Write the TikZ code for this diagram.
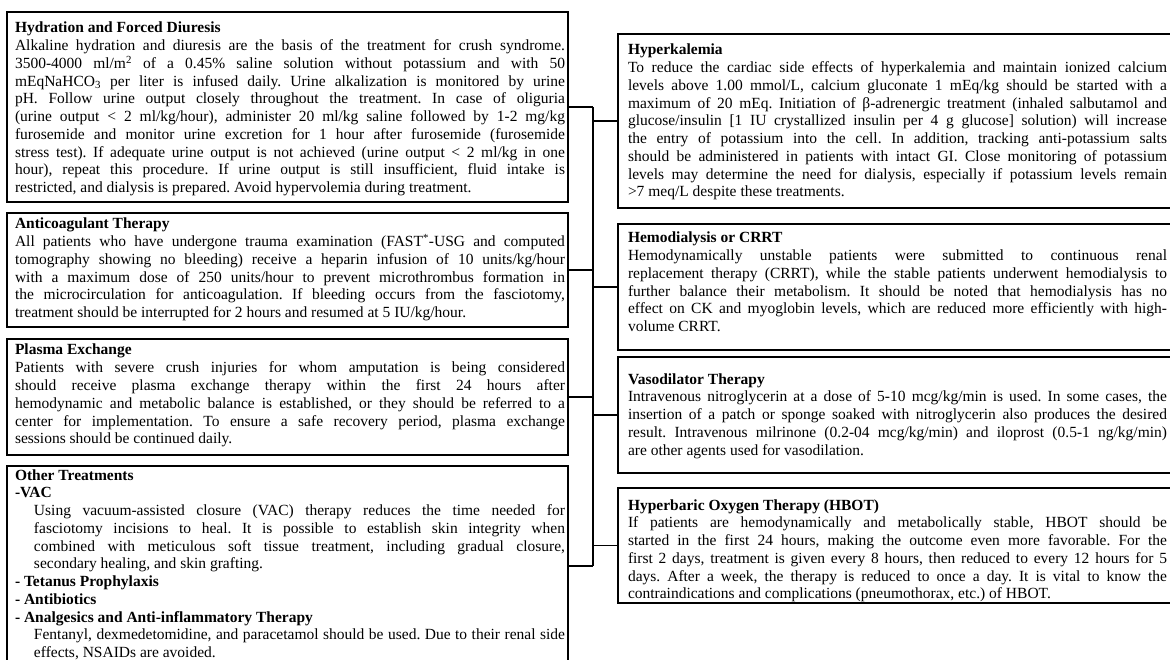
\documentclass[tikz,border=0pt]{standalone}
\usepackage{fontspec}
\setmainfont{Liberation Serif}
\newcommand\boxsetup{\frenchspacing\hyphenpenalty=10000\relax\tolerance=10000\relax}
\begin{document}
\begin{tikzpicture}[x=1pt,y=-1pt,
  box/.style={draw, line width=1.5pt, inner sep=0pt, outer sep=0pt, anchor=north west},
  lbox/.style={box, minimum width=561pt},
  rbox/.style={box, minimum width=560pt},
  txt/.style={inner sep=0pt, outer sep=0pt, anchor=base west, align=justify,
    font=\fontsize{15.5}{17.75}\selectfont},
  ltxt/.style={txt, text width=550pt},
  rtxt/.style={txt, text width=539pt},
  link/.style={line width=1.5pt}]
\useasboundingbox (0,0) rectangle (1170,660);
\fill[white] (0,0) rectangle (1170,660);

% left boxes
\node[lbox, minimum height=190pt] (b1) at (7,12) {};
\node[lbox, minimum height=114pt] (b2) at (7,213) {};
\node[lbox, minimum height=116pt] (b3) at (7,339) {};
\node[lbox, minimum height=200pt] (b4) at (7,466) {};
% right boxes
\node[rbox, minimum height=174pt] (b5) at (618,34) {};
\node[rbox, minimum height=126pt] (b6) at (618,224) {};
\node[rbox, minimum height=116pt] (b7) at (618,357) {};
\node[rbox, minimum height=115pt] (b8) at (618,488) {};

% texts
\node[ltxt] (t1) at (15,33) {\boxsetup\textbf{Hydration and Forced Diuresis}\par
Alkaline hydration and diuresis are the basis of the treatment for crush syndrome.\linebreak
3500-4000 ml/m\textsuperscript{2} of a 0.45\% saline solution without potassium and with 50\linebreak
mEqNaHCO\textsubscript{3} per liter is infused daily. Urine alkalization is monitored by urine\linebreak
pH. Follow urine output closely throughout the treatment. In case of oliguria\linebreak
(urine output < 2 ml/kg/hour), administer 20 ml/kg saline followed by 1-2 mg/kg\linebreak
furosemide and monitor urine excretion for 1 hour after furosemide (furosemide\linebreak
stress test). If adequate urine output is not achieved (urine output < 2 ml/kg in one\linebreak
hour), repeat this procedure. If urine output is still insufficient, fluid intake is\linebreak
restricted, and dialysis is prepared. Avoid hypervolemia during treatment.};

\node[ltxt] (t2) at (15,229) {\boxsetup\textbf{Anticoagulant Therapy}\par
All patients who have undergone trauma examination (FAST\textsuperscript{*}-USG and computed\linebreak
tomography showing no bleeding) receive a heparin infusion of 10 units/kg/hour\linebreak
with a maximum dose of 250 units/hour to prevent microthrombus formation in\linebreak
the microcirculation for anticoagulation. If bleeding occurs from the fasciotomy,\linebreak
treatment should be interrupted for 2 hours and resumed at 5 IU/kg/hour.};

\node[ltxt] (t3) at (15,355) {\boxsetup\textbf{Plasma Exchange}\par
Patients with severe crush injuries for whom amputation is being considered\linebreak
should receive plasma exchange therapy within the first 24 hours after\linebreak
hemodynamic and metabolic balance is established, or they should be referred to a\linebreak
center for implementation. To ensure a safe recovery period, plasma exchange\linebreak
sessions should be continued daily.};

\node[ltxt] (t4) at (15,480) {\boxsetup\textbf{Other Treatments}\par
\textbf{-VAC}\par
{\leftskip=19pt Using vacuum-assisted closure (VAC) therapy reduces the time needed for\linebreak
fasciotomy incisions to heal. It is possible to establish skin integrity when\linebreak
combined with meticulous soft tissue treatment, including gradual closure,\linebreak
secondary healing, and skin grafting.\par}
\textbf{- Tetanus Prophylaxis}\par
\textbf{- Antibiotics}\par
\textbf{- Analgesics and Anti-inflammatory Therapy}\par
{\leftskip=19pt Fentanyl, dexmedetomidine, and paracetamol should be used. Due to their renal side\linebreak
effects, NSAIDs are avoided.\par}};

\node[rtxt] (t5) at (628,55) {\boxsetup\textbf{Hyperkalemia}\par
To reduce the cardiac side effects of hyperkalemia and maintain ionized calcium\linebreak
levels above 1.00 mmol/L, calcium gluconate 1 mEq/kg should be started with a\linebreak
maximum of 20 mEq. Initiation of β-adrenergic treatment (inhaled salbutamol and\linebreak
glucose/insulin [1 IU crystallized insulin per 4 g glucose] solution) will increase\linebreak
the entry of potassium into the cell. In addition, tracking anti-potassium salts\linebreak
should be administered in patients with intact GI. Close monitoring of potassium\linebreak
levels may determine the need for dialysis, especially if potassium levels remain\linebreak
>7 meq/L despite these treatments.};

\node[rtxt] (t6) at (628,243) {\boxsetup\textbf{Hemodialysis or CRRT}\par
Hemodynamically unstable patients were submitted to continuous renal\linebreak
replacement therapy (CRRT), while the stable patients underwent hemodialysis to\linebreak
further balance their metabolism. It should be noted that hemodialysis has no\linebreak
effect on CK and myoglobin levels, which are reduced more efficiently with high-\linebreak
volume CRRT.};

\node[rtxt] (t7) at (628,384) {\boxsetup\textbf{Vasodilator Therapy}\par
Intravenous nitroglycerin at a dose of 5-10 mcg/kg/min is used. In some cases, the\linebreak
insertion of a patch or sponge soaked with nitroglycerin also produces the desired\linebreak
result. Intravenous milrinone (0.2-04 mcg/kg/min) and iloprost (0.5-1 ng/kg/min)\linebreak
are other agents used for vasodilation.};

\node[rtxt] (t8) at (628,510) {\boxsetup\textbf{Hyperbaric Oxygen Therapy (HBOT)}\par
If patients are hemodynamically and metabolically stable, HBOT should be\linebreak
started in the first 24 hours, making the outcome even more favorable. For the\linebreak
first 2 days, treatment is given every 8 hours, then reduced to every 12 hours for 5\linebreak
days. After a week, the therapy is reduced to once a day. It is vital to know the\linebreak
contraindications and complications (pneumothorax, etc.) of HBOT.};

% connectors
\coordinate (tx) at (593,0);
\foreach \b in {b1,b2,b3,b4} \draw[link] (\b.east) -- (\b.east -| tx);
\draw[link] (b1.east -| tx) -- (b4.east -| tx);
\foreach \b in {b5,b6,b7,b8} \draw[link] (\b.west -| tx) -- (\b.west);
\end{tikzpicture}
\end{document}
